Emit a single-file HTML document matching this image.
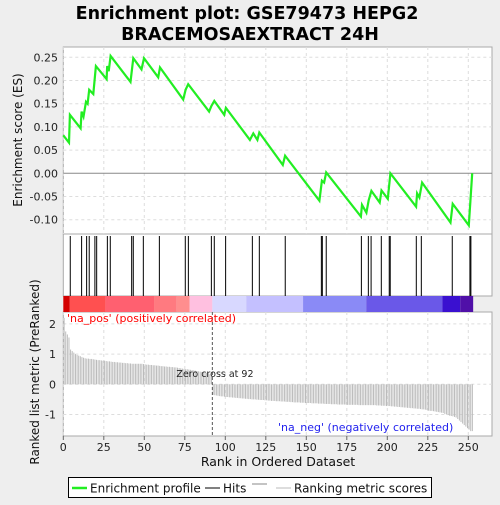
<!DOCTYPE html>
<html><head><meta charset="utf-8"><style>
body{margin:0;background:#eeeeee;font-family:"Liberation Sans","DejaVu Sans",sans-serif;}
svg text{font-family:"DejaVu Sans","Liberation Sans",sans-serif;}
</style></head><body>
<svg id="chart" width="500" height="500" xmlns="http://www.w3.org/2000/svg">
<rect x="0" y="0" width="500" height="500" fill="#eeeeee"/>
<text x="247" y="19" font-size="17.5" font-weight="bold" text-anchor="middle" fill="#000">Enrichment plot: GSE79473 HEPG2</text>
<text x="250" y="40" font-size="17.5" font-weight="bold" text-anchor="middle" fill="#000">BRACEMOSAEXTRACT 24H</text>
<g id="g"></g>
</svg>
<script>
const esRanks=[0,3.5,4.1,10.7,11.3,12.5,14,15,16,18.5,20.1,26.7,27.1,28,29.2,41.5,43.2,48.3,49.8,58.6,59.7,74,75.5,77.1,90,91.4,93.2,99.3,100.4,115.2,117.3,119.8,121,135.5,136.9,158.1,159.6,161,162.3,183.7,184.4,187.1,188.5,190.2,195.3,196.4,200.3,201.9,217.8,218.4,219.8,221.5,239,240.4,250.3,251.3,252.4];
const esValues=[0.082,0.066,0.126,0.097,0.133,0.122,0.154,0.15,0.18,0.171,0.231,0.203,0.231,0.22,0.253,0.197,0.248,0.224,0.248,0.207,0.228,0.159,0.18,0.192,0.133,0.145,0.156,0.126,0.141,0.072,0.086,0.072,0.088,0.018,0.038,-0.059,-0.016,-0.02,0.002,-0.093,-0.068,-0.085,-0.058,-0.038,-0.063,-0.037,-0.055,0.0,-0.072,-0.043,-0.052,-0.02,-0.106,-0.066,-0.112,-0.06,0.0];
const hitRanks=[4.3,11.3,14.4,16,19.5,20.6,27.2,29,42.2,43.2,49.4,59.3,75.3,77.2,91.4,93.2,100.2,116.7,121,137,159.3,159.9,162.3,184,188.3,190,196.3,201.2,201.8,217.9,221,240.1,251,251.6];
const metricValues=[2.2,1.75,1.65,1.55,1.15,1.1,1.05,1.0,0.97,0.95,0.93,0.9,0.88,0.86,0.85,0.85,0.84,0.84,0.83,0.82,
0.81,0.8,0.8,0.79,0.78,0.78,0.77,0.76,0.76,0.75,0.74,0.74,0.73,0.73,0.72,0.72,0.71,0.71,0.7,0.7,
0.69,0.69,0.68,0.68,0.68,0.68,0.68,0.68,0.68,0.67,0.66,0.65,0.65,0.64,0.64,0.63,0.63,0.62,0.62,0.61,
0.6,0.6,0.59,0.59,0.58,0.58,0.57,0.57,0.56,0.56,0.55,0.54,0.53,0.52,0.51,0.5,0.5,0.49,0.48,0.47,
0.46,0.45,0.44,0.43,0.42,0.41,0.4,0.39,0.38,0.36,0.33,0.3,
-0.35,-0.36,-0.37,-0.38,-0.39,-0.4,-0.4,-0.41,-0.42,-0.42,-0.43,-0.43,-0.44,-0.44,-0.45,-0.45,-0.46,-0.46,-0.47,-0.47,
-0.48,-0.48,-0.49,-0.49,-0.5,-0.5,-0.5,-0.51,-0.51,-0.52,-0.52,-0.52,-0.53,-0.53,-0.54,-0.54,-0.55,-0.55,-0.55,-0.56,
-0.56,-0.56,-0.57,-0.57,-0.57,-0.58,-0.58,-0.58,-0.59,-0.59,-0.6,-0.6,-0.6,-0.6,-0.61,-0.61,-0.61,-0.62,-0.62,-0.62,
-0.62,-0.63,-0.63,-0.63,-0.63,-0.64,-0.64,-0.64,-0.64,-0.65,-0.65,-0.65,-0.65,-0.66,-0.66,-0.66,-0.66,-0.67,-0.67,-0.67,
-0.67,-0.67,-0.67,-0.68,-0.68,-0.68,-0.68,-0.68,-0.68,-0.68,-0.69,-0.69,-0.69,-0.69,-0.69,-0.69,-0.69,-0.69,-0.69,-0.69,
-0.69,-0.7,-0.7,-0.7,-0.71,-0.71,-0.71,-0.72,
-0.72,-0.72,-0.73,-0.73,-0.74,-0.74,-0.75,-0.75,-0.76,-0.76,-0.77,-0.77,-0.78,-0.78,-0.79,-0.79,-0.8,-0.8,-0.81,-0.81,-0.82,-0.83,-0.83,-0.84,-0.85,
-0.87,-0.88,-0.88,-0.89,-0.9,-0.91,-0.92,-0.93,-0.94,-0.95,
-0.98,-1.0,-1.02,-1.04,-1.05,-1.06,-1.08,-1.1,-1.15,-1.2,
-1.25,-1.3,-1.35,-1.4,-1.45,-1.5,-1.55,-1.55];
const xTicks=[0,25,50,75,100,125,150,175,200,225,250];
const esTicks=[0.25,0.2,0.15,0.1,0.05,0.0,-0.05,-0.1];
const metricTicks=[2,1,0,-1];
const zeroCross=92;

const NS="http://www.w3.org/2000/svg";
const g=document.getElementById('g');
function el(tag,attrs,parent){const e=document.createElementNS(NS,tag);for(const k in attrs)e.setAttribute(k,attrs[k]);(parent||g).appendChild(e);return e;}
const L=63.3,R=492;
const xs=r=>L+r*1.62;
const esY=v=>173.3-v*464;
const mY=v=>384.3-v*30.2;
const T1=47,B1=234,T2=234,B2=296,T3=296,B3=312,T4=312,B4=436;

let p1=el('rect',{x:L,y:T1,width:R-L,height:B1-T1,fill:'#fff',stroke:'#aaa'});

let p2=el('rect',{x:L,y:T2,width:R-L,height:B2-T2,fill:'#fff',stroke:'#aaa'});

let p4=el('rect',{x:L,y:T4,width:R-L,height:B4-T4,fill:'#fff',stroke:'#aaa'});


xTicks.forEach(t=>{
 let a=el('line',{x1:xs(t),x2:xs(t),y1:T1,y2:B1,stroke:'#ddd','stroke-dasharray':'3,3'});
 
 let b=el('line',{x1:xs(t),x2:xs(t),y1:T4,y2:B4,stroke:'#ddd','stroke-dasharray':'3,3'});
 
 let tk=el('line',{x1:xs(t),x2:xs(t),y1:B4,y2:B4+4,stroke:'#666'});
 
 let lb=el('text',{x:xs(t),y:B4+15,'font-size':11,'text-anchor':'middle',fill:'#222'});lb.textContent=t;
 
});
esTicks.forEach(t=>{
 let a=el('line',{x1:L,x2:R,y1:esY(t),y2:esY(t),stroke:t===0?'#888':'#ddd','stroke-dasharray':t===0?'':'3,3'});
 
 let lb=el('text',{x:58,y:esY(t)+4,'font-size':11,'text-anchor':'end',fill:'#222'});lb.textContent=t.toFixed(2);
 
});
metricTicks.forEach(t=>{
 let a=el('line',{x1:L,x2:R,y1:mY(t),y2:mY(t),stroke:'#ddd','stroke-dasharray':'3,3'});
 
 let lb=el('text',{x:56,y:mY(t)+4,'font-size':11,'text-anchor':'end',fill:'#222'});lb.textContent=t;
 
});

metricValues.forEach((v,i)=>{
 let b=el('line',{x1:xs(i+0.5),x2:xs(i+0.5),y1:mY(0),y2:mY(v),stroke:'#bbb','stroke-width':1});
 
});
let zc=el('line',{x1:xs(zeroCross),x2:xs(zeroCross),y1:T4,y2:B4,stroke:'#555','stroke-dasharray':'3,2'});

let zt=el('text',{x:xs(zeroCross)-36,y:377,'font-size':9.5,fill:'#222'});zt.textContent='Zero cross at '+zeroCross;

let pl=el('text',{x:67,y:322,'font-size':11,fill:'#f00'});pl.textContent="'na_pos' (positively correlated)";

let nl=el('text',{x:278,y:431,'font-size':11,fill:'#2222ee'});nl.textContent="'na_neg' (negatively correlated)";


const cb=[[0,4,'#d40000'],[4,26,'#ff5050'],[26,56,'#ff6070'],[56,70,'#ff7a80'],[70,78,'#ff8e8e'],[78,92,'#ffc0e0'],[92,113,'#d8d8ff'],[113,148,'#c4c0ff'],[148,187,'#8a8af6'],[187,234,'#6a58e8'],[234,245,'#3a10d0'],[245,253,'#5010a8']];
cb.forEach(s=>{
 let r=el('rect',{x:xs(s[0]),y:T3,width:xs(s[1])-xs(s[0]),height:B3-T3,fill:s[2]});
 
});

hitRanks.forEach(h=>{
 let l=el('line',{x1:xs(h),x2:xs(h),y1:T2+2,y2:B2,stroke:'#000','stroke-width':1});
 
});

let pts=esRanks.map((r,i)=>xs(r).toFixed(1)+','+esY(esValues[i]).toFixed(1)).join(' ');
let es=el('polyline',{points:pts,fill:'none',stroke:'#22ee22','stroke-width':2.2});


let y1=el('text',{x:0,y:0,'font-size':12,'text-anchor':'middle',fill:'#111',transform:'translate(22,140) rotate(-90)'});y1.textContent='Enrichment score (ES)';

let y2=el('text',{x:0,y:0,'font-size':12,'text-anchor':'middle',fill:'#111',transform:'translate(39,372) rotate(-90)'});y2.textContent='Ranked list metric (PreRanked)';

let xt=el('text',{x:278,y:466,'font-size':12.5,'text-anchor':'middle',fill:'#111'});xt.textContent='Rank in Ordered Dataset';


let lg=el('rect',{x:68.5,y:477.5,width:363,height:20,fill:'#fff',stroke:'#000'});

let l1=el('line',{x1:72,x2:87,y1:488,y2:488,stroke:'#22ee22','stroke-width':2.5});

let t1=el('text',{x:90,y:492.5,'font-size':12,fill:'#111'});t1.textContent='Enrichment profile';

let l2=el('line',{x1:205,x2:220,y1:488,y2:488,stroke:'#000','stroke-width':1});

let t2=el('text',{x:223,y:492.5,'font-size':12,fill:'#111'});t2.textContent='Hits';

let l3=el('line',{x1:252,x2:267,y1:484,y2:484,stroke:'#888','stroke-width':1});

let l4=el('line',{x1:276,x2:291,y1:488,y2:488,stroke:'#bbb','stroke-width':1});

let t3=el('text',{x:294,y:492.5,'font-size':12,fill:'#111'});t3.textContent='Ranking metric scores';

</script>
</body></html>
